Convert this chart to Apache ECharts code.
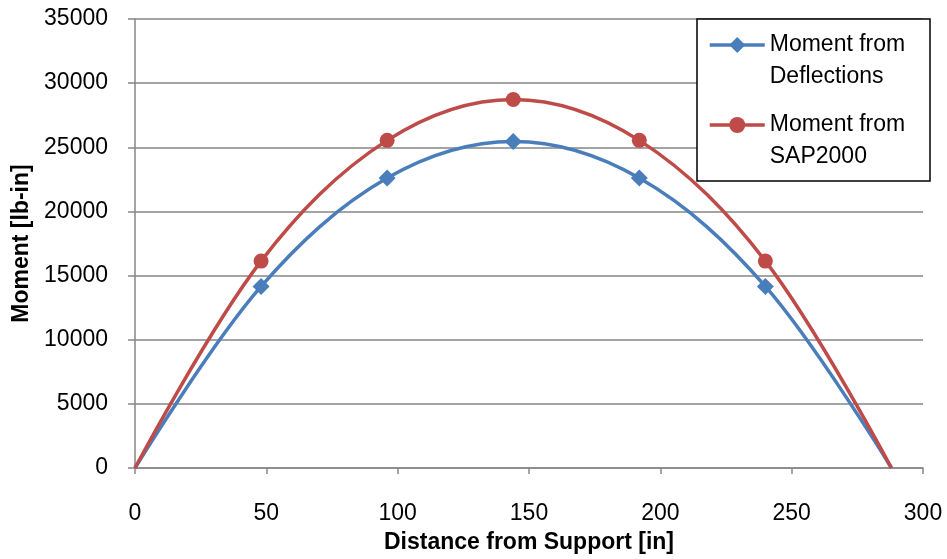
<!DOCTYPE html>
<html>
<head>
<meta charset="utf-8">
<script src="https://cdn.jsdelivr.net/npm/echarts@6/dist/echarts.min.js"></script>
<style>
html,body{margin:0;padding:0;background:#fff;}
#chart{width:947px;height:559px;}
</style>
</head>
<body>
<div id="chart"></div>
<script>
const distances = [0, 48, 96, 144, 192, 240, 288];
const momentDeflections = [0, 14150, 22600, 25450, 22600, 14150, 0];
const momentSAP2000 = [0, 16130, 25540, 28730, 25540, 16130, 0];
const seriesNames = ['Moment from\nDeflections', 'Moment from\nSAP2000'];
const xTitle = 'Distance from Support [in]';
const yTitle = 'Moment [lb-in]';

function toData(ys) {
  return distances.map((x, i) => {
    const item = { value: [x, ys[i]] };
    if (i === 0 || i === distances.length - 1) item.symbol = 'none';
    return item;
  });
}

const FONT = 'Liberation Sans';
const chart = echarts.init(document.getElementById('chart'), null, { renderer: 'canvas' });
chart.setOption({
  animation: false,
  backgroundColor: '#fff',
  grid: { left: 135, right: 24, top: 19, bottom: 86, containLabel: false },
  xAxis: {
    type: 'value', min: 0, max: 300, interval: 50,
    name: xTitle, nameLocation: 'middle', nameGap: 63,
    nameTextStyle: { fontFamily: FONT, fontSize: 23, fontWeight: 'bold', color: '#000' },
    axisLine: { show: true, lineStyle: { color: '#868686', width: 1.5 } },
    axisTick: { show: true, length: 6, lineStyle: { color: '#868686', width: 1.5 } },
    axisLabel: { fontFamily: FONT, fontSize: 23, color: '#000', margin: 34 },
    splitLine: { show: false }
  },
  yAxis: {
    type: 'value', min: 0, max: 35000, interval: 5000,
    name: yTitle, nameLocation: 'middle', nameGap: 95,
    nameTextStyle: { fontFamily: FONT, fontSize: 23, fontWeight: 'bold', color: '#000' },
    axisLine: { show: true, lineStyle: { color: '#868686', width: 1.5 } },
    axisTick: { show: true, length: 7, lineStyle: { color: '#868686', width: 1.5 } },
    axisLabel: { fontFamily: FONT, fontSize: 23, color: '#000', margin: 27, formatter: v => String(v) },
    splitLine: { show: true, lineStyle: { color: '#868686', width: 1.5 } }
  },
  graphic: [{
    type: 'rect', z: 3,
    shape: { x: 697, y: 19, width: 233, height: 162 },
    style: { fill: '#fff', stroke: '#000', lineWidth: 1.5 }
  }],
  legend: {
    z: 5,
    orient: 'vertical', left: 708, top: -3, padding: 0,
    itemWidth: 55, itemHeight: 20, itemGap: -16,
    formatter: name => '\n' + name,
    lineStyle: { width: 3.5 },
    textStyle: { fontFamily: FONT, fontSize: 23, color: '#000', lineHeight: 32 },
    data: seriesNames
  },
  series: [
    {
      name: seriesNames[0], type: 'line', smooth: 0.35,
      data: toData(momentDeflections),
      symbol: 'diamond', symbolSize: 17,
      lineStyle: { color: '#4A7EBB', width: 3.5 },
      itemStyle: { color: '#4A7EBB' }
    },
    {
      name: seriesNames[1], type: 'line', smooth: 0.35,
      data: toData(momentSAP2000),
      symbol: 'circle', symbolSize: 15,
      lineStyle: { color: '#BE4B48', width: 3.5 },
      itemStyle: { color: '#BE4B48' }
    }
  ]
});
</script>
</body>
</html>
